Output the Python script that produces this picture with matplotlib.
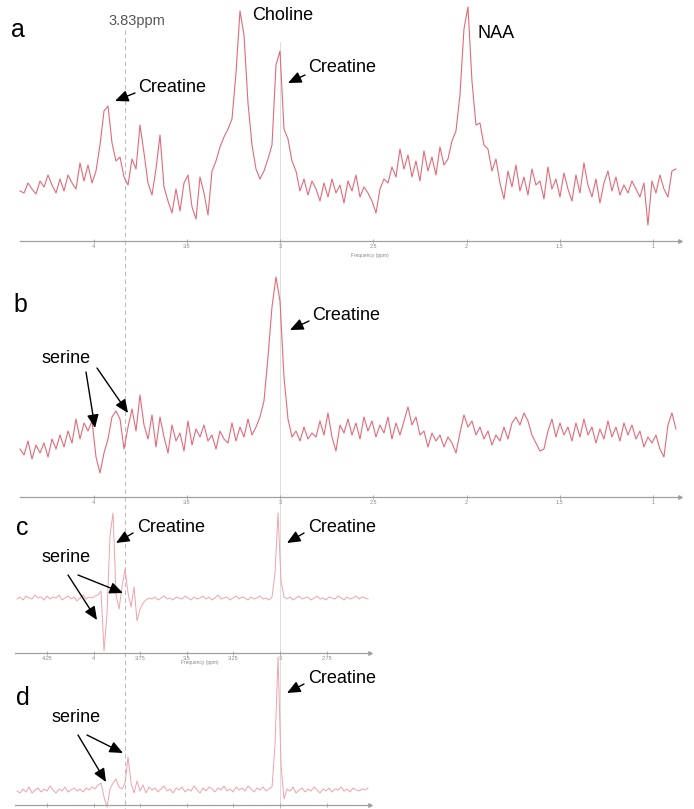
import numpy as np
import matplotlib
matplotlib.use('Agg')
import matplotlib.pyplot as plt
import matplotlib.transforms as mtransforms

plt.rcParams['font.family'] = ['Liberation Sans', 'DejaVu Sans']

W, H = 694, 809

# spectra (intensity in a.u.), sampled on a uniform ppm grid
ppm_ab = np.linspace(4.394, 0.877, 165)
spec_a = [50, 48, 58, 52, 47, 60, 54, 66, 56, 48,
          62, 50, 66, 58, 52, 78, 60, 76, 58, 70,
          96, 130, 135, 98, 80, 84, 64, 56, 82, 72,
          116, 88, 58, 46, 72, 106, 54, 40, 28, 52,
          30, 58, 66, 34, 22, 64, 48, 26, 70, 80,
          94, 104, 112, 122, 168, 230, 206, 138, 96, 72,
          62, 70, 82, 96, 176, 190, 112, 102, 80, 70,
          50, 62, 46, 60, 52, 40, 58, 44, 62, 48,
          56, 38, 60, 50, 66, 44, 54, 48, 40, 28,
          52, 62, 58, 74, 64, 92, 72, 86, 64, 80,
          60, 90, 70, 84, 66, 94, 76, 82, 100, 110,
          146, 212, 234, 160, 116, 118, 96, 92, 70, 82,
          58, 42, 70, 54, 76, 50, 64, 46, 72, 56,
          60, 42, 74, 52, 62, 44, 68, 52, 40, 66,
          48, 78, 56, 44, 62, 38, 58, 70, 50, 64,
          46, 56, 48, 60, 52, 44, 58, 16, 60, 48,
          66, 52, 44, 70, 72]
spec_b = [48, 42, 56, 38, 52, 44, 54, 40, 58, 48,
          62, 50, 66, 54, 78, 58, 74, 66, 76, 40,
          24, 44, 58, 80, 86, 78, 48, 70, 88, 66,
          102, 72, 58, 82, 50, 80, 60, 44, 72, 56,
          64, 46, 76, 52, 68, 60, 72, 56, 62, 48,
          66, 58, 54, 74, 56, 70, 60, 78, 62, 70,
          80, 96, 140, 190, 220, 196, 120, 78, 60, 66,
          56, 70, 58, 64, 60, 76, 62, 84, 60, 46,
          72, 64, 78, 62, 74, 58, 80, 66, 76, 60,
          72, 64, 80, 58, 74, 62, 76, 90, 72, 80,
          62, 66, 50, 64, 56, 62, 50, 60, 54, 44,
          64, 82, 70, 76, 62, 70, 58, 66, 52, 62,
          56, 70, 58, 74, 80, 72, 84, 76, 62, 54,
          46, 48, 66, 78, 60, 74, 62, 70, 56, 74,
          60, 78, 62, 70, 54, 68, 58, 76, 60, 70,
          56, 74, 62, 72, 58, 66, 50, 60, 54, 62,
          48, 40, 72, 84, 68]

ppm_cd = np.linspace(4.410, 2.528, 118)
spec_c = [54, 56, 53, 57, 55, 54, 58, 55, 56, 53,
          57, 54, 56, 55, 58, 53, 55, 57, 54, 56,
          52, 55, 58, 54, 56, 55, 57, 58, 62, 2,
          40, 118, 140, 58, 44, 66, 84, 60, 46, 66,
          32, 44, 50, 53, 55, 54, 56, 53, 55, 57,
          54, 55, 53, 56, 55, 54, 57, 55, 53, 56,
          54, 55, 57, 54, 56, 53, 55, 58, 54, 55,
          56, 53, 55, 57, 54, 56, 55, 53, 56, 54,
          55, 57, 54, 55, 53, 56, 80, 140, 72, 56,
          54, 56, 53, 55, 57, 54, 55, 56, 53, 55,
          57, 54, 55, 53, 56, 55, 54, 57, 55, 53,
          56, 54, 55, 57, 54, 56, 55, 54]
spec_d = [14, 12, 16, 13, 18, 12, 15, 17, 13, 16,
          14, 19, 15, 12, 16, 14, 18, 13, 15, 17,
          14, 16, 13, 17, 15, 18, 16, 20, 22, 8,
          -2, 16, 22, 26, 18, 16, 22, 48, 22, 12,
          24, 14, 20, 12, 18, 15, 17, 13, 16, 19,
          14, 16, 12, 17, 15, 18, 13, 16, 14, 19,
          15, 12, 17, 14, 18, 16, 13, 17, 15, 19,
          14, 16, 13, 18, 15, 17, 14, 19, 16, 13,
          17, 15, 18, 14, 16, 18, 60, 148, 40, 6,
          16, 14, 18, 12, 15, 17, 13, 16, 14, 18,
          15, 12, 16, 14, 17, 13, 16, 15, 18, 14,
          16, 13, 17, 15, 14, 16, 15, 17]

ticks_ab = [4, 3.5, 3, 2.5, 2, 1.5, 1]
ticklabels_ab = ['4', '3.5', '3', '2.5', '2', '1.5', '1']
ticks_cd = [4.25, 4, 3.75, 3.5, 3.25, 3, 2.75]
ticklabels_cd = ['4.25', '4', '3.75', '3.5', '3.25', '3', '2.75']

ref_ppm = 3.83
cr_ppm = 3.0


def px_rect(x0, y0, x1, y1):
    return [x0 / W, 1 - y1 / H, (x1 - x0) / W, (y1 - y0) / H]


def px_to_ppm(px):
    return 3.0 + (280 - px) / 186.5


fig = plt.figure(figsize=(W / 100, H / 100), dpi=100)

bg = fig.add_axes([0, 0, 1, 1], zorder=0)
bg.set_xlim(0, W)
bg.set_ylim(H, 0)
bg.axis('off')


def panel(rect, xl, yl, ppm, spec, ticks, labels, color, lw,
          xlabel_x=None, show_labels=True):
    ax = fig.add_axes(px_rect(*rect), zorder=1)
    ax.patch.set_alpha(0)
    ax.set_xlim(px_to_ppm(xl[0]), px_to_ppm(xl[1]))
    ax.set_ylim(0, yl)
    ax.plot(ppm, spec, color=color, lw=lw, clip_on=False)
    for s in ['top', 'left', 'right']:
        ax.spines[s].set_visible(False)
    ax.spines['bottom'].set_color('#a0a0a0')
    ax.spines['bottom'].set_linewidth(0.9)
    ax.set_yticks([])
    ax.set_xticks(ticks)
    ax.set_xticklabels(labels)
    ax.tick_params(axis='x', direction='inout', length=3, width=0.6,
                   colors='#a0a0a0', labelsize=4, labelcolor='#888888', pad=1,
                   labelbottom=show_labels)
    ax.plot(1, 0, '>', color='#a0a0a0', ms=2.5, transform=ax.transAxes, clip_on=False)
    if xlabel_x is not None:
        ax.set_xlabel('Frequency (ppm)', fontsize=3.5, color='#888888')
        ax.xaxis.set_label_coords(xlabel_x, -0.05)
    return ax


ax_a = panel((20, 0, 680, 241), (20, 680), 241, ppm_ab, spec_a,
             ticks_ab, ticklabels_ab, '#e26b7a', 0.8, xlabel_x=0.53)
ax_b = panel((20, 260, 680, 497), (20, 680), 237, ppm_ab, spec_b,
             ticks_ab, ticklabels_ab, '#e26b7a', 0.8)
ax_c = panel((15, 505, 370, 653), (15, 370), 148, ppm_cd, spec_c,
             ticks_cd, ticklabels_cd, '#f0a3ab', 0.7, xlabel_x=0.52)
ax_d = panel((15, 655, 370, 805), (15, 370), 150, ppm_cd, spec_d,
             ticks_cd, ticklabels_cd, '#f0a3ab', 0.7, show_labels=False)

# reference lines across all panels
blend = mtransforms.blended_transform_factory(ax_a.transData, bg.transData)
bg.plot([ref_ppm, ref_ppm], [30, H], transform=blend, color='#bdbdbd',
        lw=0.8, dashes=(4, 3))
bg.plot([cr_ppm, cr_ppm], [42, H], transform=blend, color='#dedede', lw=0.8)

fg = fig.add_axes([0, 0, 1, 1], zorder=5)
fg.set_xlim(0, W)
fg.set_ylim(H, 0)
fg.axis('off')

arrow = dict(arrowstyle='-|>,head_length=0.8,head_width=0.35', color='black',
             lw=1.0, mutation_scale=10, shrinkA=0, shrinkB=0)


def label(x, y, s, size=13, color='black'):
    fg.text(x, y, s, fontsize=size, color=color, ha='left', va='baseline')


def arr(tail, tip):
    fg.annotate('', xy=tip, xytext=tail, arrowprops=arrow)


# panel letters
label(11, 37, 'a', size=18)
label(13, 312, 'b', size=18)
label(16, 535, 'c', size=18)
label(16, 705, 'd', size=18)

# panel a
label(108, 25, '3.83ppm', size=10.5, color='#555555')
label(252, 20, 'Choline')
label(138, 92, 'Creatine')
arr((135, 93), (115, 101))
label(308, 72, 'Creatine')
arr((305, 75), (288, 83))
label(478, 38, 'NAA')

# panel b
label(312, 320, 'Creatine')
arr((309, 321), (290, 330))
label(42, 363, 'serine')
arr((86, 372), (95, 428))
arr((97, 368), (128, 413))

# panel c
label(137, 532, 'Creatine')
arr((133, 533), (116, 543))
label(308, 532, 'Creatine')
arr((304, 533), (287, 543))
label(42, 562, 'serine')
arr((68, 575), (97, 620))
arr((78, 575), (123, 593))

# panel d
label(308, 683, 'Creatine')
arr((304, 684), (287, 693))
label(52, 722, 'serine')
arr((78, 735), (106, 782))
arr((87, 735), (123, 753))

fig.savefig('out.png', dpi=100)
